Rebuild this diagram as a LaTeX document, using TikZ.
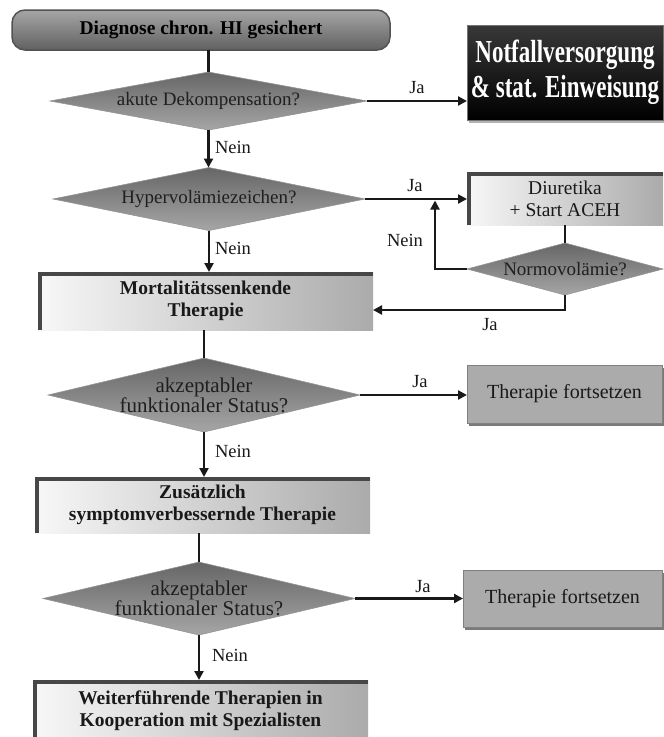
\documentclass[tikz,border=0pt]{standalone}
\usepackage{fontspec}
\setmainfont{Liberation Serif}
\usetikzlibrary{shapes.geometric,arrows.meta,shadows}
\begin{document}
\begin{tikzpicture}[x=1pt,y=-1pt,
  every node/.style={inner sep=0pt, outer sep=0pt},
  conn/.style={line width=2.2pt, draw=black!90},
  arr/.style={conn, -{Triangle[length=9pt,width=9pt]}},
  lbl/.style={font=\fontsize{18.5}{20}\selectfont, text=black!90},
  decision/.style={diamond, shape aspect=5, inner xsep=-25pt, inner ysep=-8pt,
    top color=black!60, bottom color=black!35,
    draw=black!42, line width=0.6pt, text=black!88, align=center,
    font=\fontsize{19}{20}\selectfont},
  bigq/.style={font=\fontsize{21}{20}\selectfont},
  lightbox/.style={rectangle, left color=black!3, right color=black!33, text=black!90,
    align=center,
    path picture={\draw[line width=7pt, black!72] (path picture bounding box.south west)
      -- (path picture bounding box.north west) -- (path picture bounding box.north east);}},
  boldbox/.style={lightbox, font=\bfseries\fontsize{19.5}{22}\selectfont},
  tfbox/.style={rectangle, fill=black!33, draw=black!50, line width=0.8pt, text=black!90,
    font=\fontsize{20}{22}\selectfont,
    drop shadow={shadow xshift=1.5pt, shadow yshift=-2.5pt, fill=black!65, opacity=0.8}},
  startbox/.style={rectangle, rounded corners=13pt, top color=black!35, bottom color=black!62,
    draw=black!68, line width=1.5pt, text=black,
    font=\bfseries\fontsize{19.5}{22}\selectfont},
  alarmbox/.style={rectangle, top color=black!78, bottom color=black, draw=black!55,
    line width=1pt, text=white, align=center, font=\bfseries\fontsize{32}{35}\selectfont,
    drop shadow={shadow xshift=1.5pt, shadow yshift=-2.5pt, fill=black!50, opacity=0.6}}
]
\useasboundingbox (0,0) rectangle (664,737);

% nodes
\node[startbox, minimum width=378pt, minimum height=40pt] (diag) at (201,30) {Diagnose chron. HI gesichert};
\node[decision, minimum width=317pt, minimum height=58pt] (D1) at (208.5,101) {akute Dekompensation?};
\node[alarmbox, minimum width=196pt, minimum height=95pt] (notfall) at (565,72.5)
  {\scalebox{0.72}[1]{Notfallversorgung}\\\scalebox{0.72}[1]{\& stat. Einweisung}};
\node[decision, minimum width=312pt, minimum height=63pt] (D2) at (209,199) {Hypervolämiezeichen?};
\node[lightbox, font=\fontsize{19.5}{22}\selectfont, minimum width=196pt, minimum height=53pt] (diur) at (565,198.5) {Diuretika\\+ Start ACEH};
\node[decision, minimum width=196pt, minimum height=52pt] (normo) at (565,269) {Normovolämie?};
\node[boldbox, minimum width=335pt, minimum height=58pt] (mort) at (205.5,301) {Mortalitätssenkende\\Therapie};
\node[decision, bigq, minimum width=312pt, minimum height=74pt] (D3) at (204,395) {akzeptabler\\funktionaler Status?};
\node[tfbox, minimum width=195pt, minimum height=58pt] (tf1) at (564.5,394) {Therapie fortsetzen};
\node[boldbox, minimum width=335pt, minimum height=56pt] (zus) at (202.5,505) {Zusätzlich\\symptomverbessernde Therapie};
\node[decision, bigq, minimum width=312pt, minimum height=73pt] (D4) at (199,598.5) {akzeptabler\\funktionaler Status?};
\node[tfbox, minimum width=199pt, minimum height=57pt] (tf2) at (562.5,598.5) {Therapie fortsetzen};
\node[boldbox, minimum width=335pt, minimum height=62pt] (weit) at (200.5,711) {Weiterführende Therapien in\\Kooperation mit Spezialisten};

\coordinate (loopend) at (435,200.5);

% connectors
\draw[conn] (D1.north |- diag.south) -- (D1.north);
\draw[arr] (D1.east) -- (D1.east -| notfall.west);
\draw[arr] (D1.south) -- (D1.south |- D2.north);
\draw[arr] (D2.east) -- (D2.east -| diur.west);
\draw[conn] (diur.south) -- (normo.north);
\draw[arr] (normo.west) -| (loopend);
\draw[arr] (normo.south) |- ([yshift=-9pt]mort.east);
\draw[arr] (D2.south) -- (D2.south |- mort.north);
\draw[conn] (D3.north |- mort.south) -- (D3.north);
\draw[arr] (D3.east) -- (D3.east -| tf1.west);
\draw[arr] (D3.south) -- (D3.south |- zus.north);
\draw[conn] (D4.north |- zus.south) -- (D4.north);
\draw[arr] (D4.east) -- (D4.east -| tf2.west);
\draw[arr] (D4.south) -- (D4.south |- weit.north);

% labels
\node[lbl] (l1) at (417,88) {Ja};
\node[lbl] (l2) at (233,147) {Nein};
\node[lbl] (l3) at (415,186) {Ja};
\node[lbl] (l4) at (233,248) {Nein};
\node[lbl] (l5) at (405,240) {Nein};
\node[lbl] (l6) at (490,325) {Ja};
\node[lbl] (l7) at (420,382) {Ja};
\node[lbl] (l8) at (233,451) {Nein};
\node[lbl] (l9) at (423,587) {Ja};
\node[lbl] (l10) at (230,655) {Nein};
\end{tikzpicture}
\end{document}
